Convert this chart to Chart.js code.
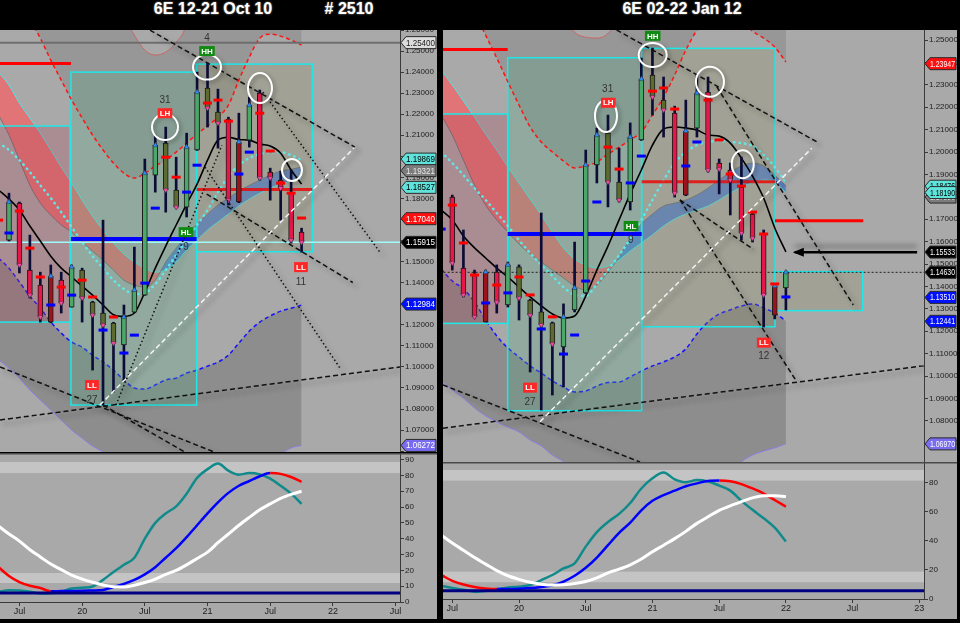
<!DOCTYPE html>
<html>
<head>
<meta charset="utf-8">
<title>6E monthly</title>
<script src="https://cdn.jsdelivr.net/npm/chart.js@4.4.1/dist/chart.umd.min.js"></script>
<style>
  html, body { margin: 0; padding: 0; background: #000; width: 960px; height: 623px; overflow: hidden; }
  .ttl { position: absolute; top: 0; height: 29px; line-height: 29px; color: #fff; text-align: center;
         font: bold 16px "Liberation Sans", Arial, sans-serif; text-shadow: 0 0 2px #aaa; }
  canvas { position: absolute; }
</style>
</head>
<body>
<div class="ttl" style="left:133px;width:160px">6E 12-21 Oct 10</div>
<div class="ttl" style="left:309px;width:80px"># 2510</div>
<div class="ttl" style="left:602px;width:160px">6E 02-22 Jan 12</div>
<canvas id="leftPrice" width="437" height="422" style="left:0;top:30px"></canvas>
<canvas id="leftOsc" width="437" height="166" style="left:0;top:453px"></canvas>
<canvas id="rightPrice" width="514" height="432" style="left:443px;top:30px"></canvas>
<canvas id="rightOsc" width="514" height="157" style="left:443px;top:462px"></canvas>
<script>
// ---------- left panel: 6E 12-21 Oct 10 (monthly bars, x = bar index) ----------
const leftOpen  = [1.1602, 1.1778, 1.1460, 1.1389, 1.1213, 1.1412, 1.1284, 1.1460, 1.1308, 1.1256, 1.1208, 1.1104, 1.1260, 1.1341, 1.1911, 1.2063, 1.1840, 1.1759, 1.2030, 1.2324, 1.2210, 1.2177, 1.1783, 1.2077, 1.2300, 1.1925, 1.1887, 1.1830, 1.1640];
const leftHigh  = [1.1825, 1.1783, 1.1626, 1.1450, 1.1484, 1.1450, 1.1484, 1.1469, 1.1312, 1.1697, 1.1212, 1.1294, 1.1569, 1.1987, 1.2101, 1.2139, 1.1996, 1.2110, 1.2400, 1.2443, 1.2319, 1.2186, 1.2205, 1.2281, 1.2315, 1.1944, 1.1930, 1.1935, 1.1659];
const leftLow   = [1.1598, 1.1446, 1.1327, 1.1213, 1.1210, 1.1256, 1.1284, 1.1213, 1.0985, 1.0819, 1.0881, 1.0928, 1.1258, 1.1340, 1.1830, 1.1735, 1.1754, 1.1712, 1.2028, 1.2139, 1.2039, 1.1769, 1.1780, 1.2044, 1.1887, 1.1792, 1.1697, 1.1588, 1.1545];
const leftClose = [1.1783, 1.1484, 1.1341, 1.1237, 1.1431, 1.1303, 1.1474, 1.1327, 1.1246, 1.1199, 1.1113, 1.1237, 1.1365, 1.1920, 1.2053, 1.1840, 1.1759, 1.2044, 1.2305, 1.2229, 1.2158, 1.1792, 1.2068, 1.2243, 1.1897, 1.1897, 1.1849, 1.1602, 1.1592];
const leftKind  = ['g','r','r','r','d','r','g','o','o','o','o','g','g','g','g','o','o','g','g','o','o','r','d','g','r','r','r','r','r'];
const leftRedDashAt  = [-1, 1, 2, 3, 5, 7, 8, 10, 15, 16, 19, 20, 21, 24, 25, 26, 27, 28];
const leftRedDash    = [1.1697, 1.1740, 1.1564, 1.1427, 1.1379, 1.1412, 1.1332, 1.1237, 1.1996, 1.1901, 1.2253, 1.2267, 1.2167, 1.2205, 1.2025, 1.1873, 1.1825, 1.1707];
const leftBlueDashAt = [0, 4, 6, 9, 11, 12, 13, 14, 17, 18, 22, 23];
const leftBlueDash   = [1.1636, 1.1294, 1.1341, 1.1175, 1.1066, 1.1151, 1.1398, 1.1754, 1.1830, 1.1958, 1.1916, 1.2020];
// indicator lines, first value sits at bar -1
const leftUpper      = [1.286, 1.279, 1.2718, 1.2647, 1.2561, 1.2457, 1.2362, 1.2267, 1.2182, 1.2101, 1.2030, 1.1968, 1.1920, 1.1897, 1.1920, 1.1954, 1.1982, 1.2020, 1.2063, 1.2106, 1.2144, 1.2186, 1.2243, 1.2362, 1.2471, 1.2561, 1.2580, 1.2571, 1.2552, 1.2528];
const leftOuterUpper = [1.30, 1.30, 1.30, 1.30, 1.30, 1.30, 1.30, 1.30, 1.30, 1.30, 1.30, 1.30, 1.268, 1.2576, 1.2504, 1.2481, 1.2495, 1.2542, 1.2640, 1.30, 1.30, 1.30, 1.30, 1.30, 1.30, 1.30, 1.30, 1.30, 1.30, 1.30];
const leftLower      = [1.1517, 1.1469, 1.1403, 1.1336, 1.1279, 1.1213, 1.1161, 1.1118, 1.1094, 1.1056, 1.1023, 1.0985, 1.0938, 1.0900, 1.0895, 1.0914, 1.0938, 1.0947, 1.0971, 1.0985, 1.1004, 1.1023, 1.1056, 1.1113, 1.1170, 1.1213, 1.1242, 1.1265, 1.1279, 1.1294];
const leftOuterLower = [1.1033, 1.0995, 1.0947, 1.0890, 1.0843, 1.0795, 1.0748, 1.0700, 1.0662, 1.0624, 1.0596, 1.0558, 1.0510, 1.0510, 1.0510, 1.0510, 1.0510, 1.0510, 1.0510, 1.0510, 1.0510, 1.0510, 1.0510, 1.0510, 1.0510, 1.0510, 1.0510, 1.0582, 1.0615, 1.0627];
const leftCloudA     = [1.2400, 1.2338, 1.2253, 1.2182, 1.2110, 1.2030, 1.1949, 1.1873, 1.1792, 1.1716, 1.1650, 1.1588, 1.1536, 1.1498, 1.1469, 1.1450, 1.1460, 1.1498, 1.1555, 1.1602, 1.1650, 1.1688, 1.1726, 1.1764, 1.1797, 1.1825, 1.1849, 1.1868, 1.1882, 1.1897];
const leftCloudB     = [1.2196, 1.2101, 1.1982, 1.1863, 1.1778, 1.1721, 1.1674, 1.1640, 1.1593, 1.1550, 1.1507, 1.1460, 1.1412, 1.1389, 1.1379, 1.1412, 1.1498, 1.1564, 1.1626, 1.1678, 1.1726, 1.1769, 1.1802, 1.1835, 1.1863, 1.1887, 1.1911, 1.1930, 1.1939, 1.1949];
const leftDotted     = [1.2063, 1.2030, 1.1982, 1.1925, 1.1863, 1.1802, 1.1735, 1.1664, 1.1593, 1.1526, 1.1469, 1.1412, 1.1370, 1.1346, 1.1351, 1.1393, 1.1460, 1.1531, 1.1602, 1.1674, 1.1745, 1.1830, 1.1906, 1.1958, 1.1992, 1.2011, 1.2020, 1.2020, 1.2006, 1.1982];
const leftMA         = [1.1840, 1.1797, 1.1745, 1.1669, 1.1598, 1.1526, 1.1469, 1.1427, 1.1384, 1.1341, 1.1294, 1.1248, 1.1240, 1.1256, 1.1355, 1.1469, 1.1574, 1.1674, 1.1773, 1.1868, 1.1982, 1.2077, 1.2091, 1.2080, 1.2077, 1.2058, 1.2049, 1.2015, 1.1935, 1.1868];
// annotations in (bar index, price)
const leftBoxes    = [[-1.5, 5.84, 1.1213, 1.2144], [5.93, 17.96, 1.0819, 1.2400], [17.96, 29.02, 1.1547, 1.2438]];
const leftBoxKind  = ['mauve', 'green', 'olive'];
const leftHLines   = [[-1.5, 5.93, 1.2441], [5.93, 17.96, 1.1608], [17.96, 29.02, 1.1843], [-1.5, 38, 1.1592], [-1.5, 38, 1.2540]];
const leftHLineKind = ['red', 'blue', 'redsoft', 'cyan', 'gray'];
const leftTrends   = [[13.5, 1.2599, 33.1, 1.2044], [8.7, 1.0819, 33.1, 1.2044], [-0.86, 1.0748, 37.42, 1.1000], [-0.86, 1.1000, 21.1, 1.0567], [9.0, 1.0819, 17.3, 1.0582], [18.92, 1.1821, 32.9, 1.1401], [10.24, 1.0819, 20.38, 1.2053], [24.3, 1.2305, 35.5, 1.1545], [18.76, 1.1949, 31.67, 1.0995]];
const leftTrendKind = ['dash', 'white', 'dash', 'dash', 'dash', 'dash', 'dot', 'dot', 'dot'];
const leftRings    = [[14.93, 1.2139], [18.95, 1.2424], [24.02, 1.2324], [27.08, 1.1935]];
const leftMarkText = ['HH', '4', 'LH', '31', 'HL', '9', 'LL', '27', 'LL', '11'];
const leftMarkX    = [18.95, 18.95, 14.93, 14.93, 16.94, 16.94, 7.94, 7.94, 27.94, 27.94];
const leftMarkY    = [1.2500, 1.2561, 1.2205, 1.2267, 1.1640, 1.1569, 1.0914, 1.0843, 1.1474, 1.1403];
const leftTagValue = [1.25400, 1.19869, 1.19321, 1.18527, 1.17040, 1.15915, 1.12984, 1.06272];
const leftTagKind  = ['light', 'cyan', 'gray', 'cyan', 'red', 'black', 'blue', 'lav'];
const leftOscWhite  = [48, 43, 38.5, 33, 28.5, 24, 20.5, 17, 14.5, 12.5, 10.8, 9.6, 9.5, 10.6, 12.3, 14.5, 17.5, 20, 23.5, 27.5, 31.5, 37.5, 43, 48.5, 53.5, 58.3, 62, 65.5, 68, 70];
const leftOscSignal = [22, 16.5, 12.6, 10.3, 8.8, 6.8, 6.9, 7.0, 7.1, 7.3, 7.6, 9.5, 11.5, 14, 17.5, 22, 28, 34, 41, 48.5, 56, 63, 69, 73.5, 76.5, 79.5, 81.5, 81, 79, 76];
const leftOscTeal   = [6.5, 7.4, 7.2, 6.5, 5.3, 5.5, 6.5, 8.5, 9.0, 9.8, 14, 19, 23.5, 28, 40, 50, 56, 60.5, 68.5, 78.5, 84, 87.5, 83, 80.5, 81.5, 80.7, 78, 73.5, 68.5, 62];
const leftOscBands  = [[12, 18.3], [81.5, 88.5]];
const leftXTickAt     = [1, 7, 13, 19, 25, 31, 37];
const leftXTickLabels = ['Jul', '20', 'Jul', '21', 'Jul', '22', 'Jul'];

// ---------- right panel: 6E 02-22 Jan 12 ----------
const rightOpen  = [1.1799, 1.1482, 1.1451, 1.1241, 1.1464, 1.1317, 1.1487, 1.1339, 1.1286, 1.1237, 1.1130, 1.1295, 1.1371, 1.1942, 1.2085, 1.1866, 1.1777, 1.2054, 1.2344, 1.2232, 1.2174, 1.1808, 1.2107, 1.2268, 1.1951, 1.1920, 1.1844, 1.1723, 1.1638, 1.1272, 1.1393];
const rightHigh  = [1.1808, 1.1652, 1.1473, 1.1473, 1.1496, 1.1509, 1.1496, 1.1343, 1.1728, 1.1241, 1.1322, 1.1598, 1.2009, 1.2107, 1.2165, 1.2018, 1.2130, 1.2420, 1.2464, 1.2335, 1.2205, 1.2232, 1.2344, 1.2335, 1.1969, 1.1951, 1.1978, 1.1732, 1.1652, 1.1406, 1.1469];
const rightLow   = [1.1473, 1.1353, 1.1259, 1.1241, 1.1281, 1.1308, 1.1250, 1.1018, 1.0848, 1.0915, 1.0951, 1.1286, 1.1368, 1.1862, 1.1755, 1.1777, 1.1741, 1.2052, 1.2165, 1.2067, 1.1799, 1.1805, 1.2067, 1.1911, 1.1813, 1.1719, 1.1607, 1.1598, 1.1219, 1.1255, 1.1295];
const rightClose = [1.1505, 1.1362, 1.1264, 1.1464, 1.1330, 1.1496, 1.1348, 1.1272, 1.1228, 1.1143, 1.1264, 1.1393, 1.1942, 1.2076, 1.1866, 1.1786, 1.2067, 1.2326, 1.2246, 1.2188, 1.1817, 1.2094, 1.2263, 1.1920, 1.1924, 1.1875, 1.1638, 1.1616, 1.1362, 1.1402, 1.1463];
const rightKind  = ['r','r','r','d','r','g','o','o','o','o','g','g','g','g','o','o','g','g','o','o','r','d','g','r','r','r','r','r','r','d','g'];
const rightRedDashAt  = [0, 1, 2, 4, 6, 7, 9, 14, 15, 18, 19, 20, 23, 24, 25, 26, 27, 28, 29];
const rightRedDash    = [1.1763, 1.1594, 1.1451, 1.1406, 1.1442, 1.1362, 1.1264, 1.2022, 1.1924, 1.2272, 1.2286, 1.2192, 1.2232, 1.2054, 1.1902, 1.1848, 1.1732, 1.1634, 1.1411];
const rightBlueDashAt = [-1, 3, 5, 8, 10, 11, 12, 13, 16, 17, 21, 22, 30];
const rightBlueDash   = [1.1656, 1.1326, 1.1371, 1.1210, 1.1098, 1.1183, 1.1424, 1.1777, 1.1862, 1.1982, 1.1938, 1.2045, 1.1353];
const rightUpper      = [1.295, 1.2835, 1.2723, 1.2625, 1.2522, 1.2420, 1.2313, 1.2210, 1.2112, 1.2045, 1.2000, 1.1960, 1.1929, 1.1938, 1.1955, 1.1991, 1.2022, 1.2054, 1.2089, 1.2165, 1.2246, 1.2344, 1.2455, 1.2545, 1.2612, 1.2643, 1.2634, 1.2589, 1.2540, 1.2509, 1.2469, 1.2402];
const rightOuterUpper = [1.30, 1.30, 1.30, 1.30, 1.30, 1.30, 1.30, 1.30, 1.30, 1.30, 1.30, 1.262, 1.2536, 1.2513, 1.2509, 1.2531, 1.262, 1.30, 1.30, 1.30, 1.30, 1.30, 1.30, 1.30, 1.30, 1.30, 1.30, 1.30, 1.30, 1.30, 1.30, 1.30];
const rightLower      = [1.1478, 1.1424, 1.1389, 1.1330, 1.1250, 1.1179, 1.1125, 1.1085, 1.1045, 1.1013, 1.0978, 1.0951, 1.0929, 1.0933, 1.0955, 1.0971, 1.0973, 1.0996, 1.1022, 1.1045, 1.1063, 1.1085, 1.1121, 1.1188, 1.1241, 1.1277, 1.1295, 1.1313, 1.1322, 1.1304, 1.1281, 1.1246];
const rightOuterLower = [1.0978, 1.0938, 1.0902, 1.0857, 1.0822, 1.0795, 1.0772, 1.0750, 1.0714, 1.0688, 1.0647, 1.0616, 1.0558, 1.0558, 1.0558, 1.0558, 1.0558, 1.0558, 1.0558, 1.0558, 1.0558, 1.0558, 1.0558, 1.0558, 1.0558, 1.0558, 1.0558, 1.0616, 1.0647, 1.0665, 1.0679, 1.0697];
const rightCloudA     = [1.2366, 1.2299, 1.2228, 1.2156, 1.2080, 1.2009, 1.1933, 1.1862, 1.1790, 1.1719, 1.1643, 1.1572, 1.1522, 1.1496, 1.1482, 1.1491, 1.1518, 1.1558, 1.1594, 1.1630, 1.1670, 1.1701, 1.1723, 1.1741, 1.1759, 1.1786, 1.1817, 1.1844, 1.1862, 1.1875, 1.1866, 1.1819];
const rightCloudB     = [1.2165, 1.2076, 1.1964, 1.1853, 1.1763, 1.1697, 1.1643, 1.1589, 1.1545, 1.1509, 1.1473, 1.1438, 1.1402, 1.1384, 1.1406, 1.1464, 1.1531, 1.1616, 1.1679, 1.1723, 1.1759, 1.1772, 1.1786, 1.1808, 1.1839, 1.1875, 1.1911, 1.1938, 1.1951, 1.1938, 1.1897, 1.1848];
const rightDotted     = [1.2000, 1.1951, 1.1897, 1.1839, 1.1786, 1.1728, 1.1670, 1.1607, 1.1549, 1.1496, 1.1447, 1.1397, 1.1362, 1.1357, 1.1411, 1.1473, 1.1540, 1.1612, 1.1697, 1.1786, 1.1875, 1.1951, 1.2000, 1.2031, 1.2045, 1.2049, 1.2045, 1.2040, 1.2027, 1.1987, 1.1933, 1.1862];
const rightMA         = [1.1741, 1.1697, 1.1625, 1.1572, 1.1527, 1.1482, 1.1442, 1.1397, 1.1353, 1.1313, 1.1277, 1.1259, 1.1268, 1.1357, 1.1473, 1.1580, 1.1697, 1.1813, 1.1920, 1.2031, 1.2103, 1.2112, 1.2107, 1.2098, 1.2076, 1.2071, 1.2040, 1.1973, 1.1893, 1.1795, 1.1661, 1.1554];
const rightBoxes    = [[-1.5, 5.04, 1.1235, 1.2170], [4.98, 17.03, 1.0845, 1.2421], [17.03, 29.02, 1.1220, 1.2463], [29.02, 36.9, 1.1292, 1.1466]];
const rightBoxKind  = ['mauve', 'green', 'olive', 'olive'];
const rightHLines   = [[-1.5, 4.98, 1.2458], [4.98, 17.03, 1.1634], [17.03, 29.02, 1.1867], [29.02, 36.96, 1.1693], [-1.5, 43, 1.1463]];
const rightHLineKind = ['red', 'blue', 'redsoft', 'red', 'blackdot'];
const rightTrends   = [[14.78, 1.2545, 32.91, 1.2042], [7.89, 1.0796, 32.32, 1.2017], [20.48, 1.1786, 30.97, 1.0975], [20.48, 1.1786, 27.07, 1.1566], [23.78, 1.2292, 36.06, 1.1317], [-0.84, 1.0767, 42.42, 1.1046], [-0.84, 1.0960, 16.88, 1.0616]];
const rightTrendKind = ['dash', 'white', 'dash', 'dash', 'dash', 'dash', 'dash'];
const rightArrow    = [30.8, 1.1553, 41.8, 1.1553];
const rightRings    = [[13.82, 1.2161], [18.02, 1.2433], [23.17, 1.2314], [26.12, 1.1946]];
const rightMarkText = ['HH', 'LH', '31', 'HL', '9', 'LL', '27', 'LL', '12'];
const rightMarkX    = [18.02, 14.03, 13.97, 16.07, 16.04, 6.99, 6.99, 28.01, 28.01];
const rightMarkY    = [1.2519, 1.2220, 1.2280, 1.1670, 1.1604, 1.0948, 1.0885, 1.1149, 1.1086];
const rightTagValue = [1.23947, 1.17990, 1.18476, 1.18190, 1.15533, 1.14630, 1.13510, 1.12441, 1.06970];
const rightTagKind  = ['red', 'gray', 'cyan', 'cyan', 'black', 'black', 'blue', 'blue', 'lav'];
const rightOscWhite  = [44, 38.5, 33.5, 28.5, 24, 19.5, 16, 13.5, 11.5, 10.2, 9.6, 9.8, 10.6, 12, 14.5, 18, 20.5, 23.5, 27.5, 32.5, 37, 41.5, 46.5, 52, 56.5, 61, 64, 67, 69.5, 71, 71, 70.5];
const rightOscSignal = [16.5, 12.5, 10, 8.3, 7.2, 6.8, 6.9, 7.1, 7.5, 8.3, 9.5, 12, 16, 21.5, 28.5, 37, 45.5, 52.5, 61, 67.5, 71.5, 74.5, 77.5, 79.5, 81.2, 81.5, 81, 79, 76, 72.5, 68, 63.5];
const rightOscTeal   = [9, 7.6, 6.3, 5.0, 5.5, 6.5, 8, 8.5, 9.6, 13, 16.5, 21, 24.5, 36, 46, 53, 58.5, 66, 76, 83, 87, 82.3, 80.3, 81.8, 80.8, 78, 74.5, 67.5, 61.3, 55.5, 49, 39.5];
const rightOscBands  = [[11.5, 18.8], [81.4, 88.7]];
const rightXTickAt     = [0, 6, 12, 18, 24, 30, 36, 42];
const rightXTickLabels = ['Jul', '20', 'Jul', '21', 'Jul', '22', 'Jul', '23'];
const oscBaseLine = 5.7;

// ---------- styles ----------
Chart.defaults.font.family = '"Liberation Sans", Arial, sans-serif';
const BG = '#a9a9a9';
const BODY = { g: '#4aa86a', o: '#5d6b30', r: '#e8174a', d: '#9a1420' };
const BOX_FILL = { mauve: 'rgba(170,60,80,0.25)', green: 'rgba(80,170,130,0.27)', olive: 'rgba(140,140,90,0.25)' };
const HLINE = { red: ['#ff0000', 3, []], redsoft: ['rgba(240,0,0,0.8)', 3, []], blue: ['#0000ff', 4, []],
                cyan: ['#9ffafa', 1.5, []], gray: ['#6e6e6e', 2, []], blackdot: ['#202020', 1, [2, 2]] };
const TREND = { dash: ['#111111', 1.5, [5, 3]], white: ['#f4f4f4', 1.5, [5, 3]], dot: ['#111111', 1.5, [1.5, 2.5]] };
const TAG = { light: ['#dcdcdc', '#222'], cyan: ['#5fe3da', '#000'], gray: ['#7c7c7c', '#e8e8e8'], red: ['#ff1010', '#fff'],
              black: ['#000', '#fff'], blue: ['#0010ff', '#fff'], lav: ['#7a6cf0', '#fff'] };
const LEFT_RING_SIZE = [[13, 13], [14, 12.5], [12, 15], [10, 11]];
const RIGHT_RING_SIZE = [[11, 16], [14, 12], [14, 15], [11, 14]];

function pts(from, arr) { return arr.map((v, k) => ({ x: from + k, y: v })); }

function line(data, color, width, extra) {
  return Object.assign({ type: 'line', data, borderColor: color, borderWidth: width, pointRadius: 0,
    cubicInterpolationMode: 'monotone', fill: false }, extra || {});
}

function drawTag(ctx, x, y, w, text, kind) {
  const h = 12;
  ctx.beginPath();
  ctx.moveTo(x, y); ctx.lineTo(x + 5, y - h / 2); ctx.lineTo(x + w, y - h / 2);
  ctx.lineTo(x + w, y + h / 2); ctx.lineTo(x + 5, y + h / 2); ctx.closePath();
  ctx.fillStyle = TAG[kind][0]; ctx.fill();
  ctx.strokeStyle = '#2a2a2a'; ctx.lineWidth = 1; ctx.stroke();
  ctx.fillStyle = TAG[kind][1];
  ctx.font = '9px "Liberation Sans", Arial';
  ctx.textAlign = 'left'; ctx.textBaseline = 'middle';
  ctx.fillText(text, x + 5, y + 0.5, w - 6);
}

function priceOverlay(P) {
  return {
    id: 'priceOverlay',
    beforeDraw(chart) {
      const c = chart.ctx;
      c.save(); c.fillStyle = BG; c.fillRect(0, 0, chart.width, chart.height); c.restore();
    },
    beforeDatasetDraw(chart, args) {
      const ds = chart.data.datasets[args.index];
      const c = chart.ctx, xs = chart.scales.x, ys = chart.scales.y, a = chart.chartArea;
      if (ds.boxesBelow) {
        c.save();
        c.beginPath(); c.rect(a.left, a.top, a.right - a.left, a.bottom - a.top); c.clip();
        P.boxes.forEach((b, k) => {
          const x0 = xs.getPixelForValue(b[0]), x1 = xs.getPixelForValue(b[1]);
          const y0 = ys.getPixelForValue(b[3]), y1 = ys.getPixelForValue(b[2]);
          c.fillStyle = BOX_FILL[P.boxKind[k]];
          c.fillRect(x0, y0, x1 - x0, y1 - y0);
          c.strokeStyle = '#1ee8e8'; c.lineWidth = 1.5;
          c.strokeRect(x0, y0, x1 - x0, y1 - y0);
        });
        c.restore();
      }
      if (ds.shadow) {
        c.save();
        c.shadowColor = 'rgba(30,30,30,0.45)'; c.shadowBlur = 5;
        c.shadowOffsetX = ds.shadow[0]; c.shadowOffsetY = ds.shadow[1];
      }
    },
    afterDatasetDraw(chart, args) {
      if (chart.data.datasets[args.index].shadow) chart.ctx.restore();
    },
    afterDatasetsDraw(chart) {
      const c = chart.ctx, xs = chart.scales.x, ys = chart.scales.y;
      // white rings
      c.save();
      c.strokeStyle = '#ffffff'; c.lineWidth = 2;
      c.shadowColor = 'rgba(0,0,0,0.35)'; c.shadowBlur = 4; c.shadowOffsetX = 2; c.shadowOffsetY = 2;
      P.rings.forEach((r, k) => {
        c.beginPath();
        c.ellipse(xs.getPixelForValue(r[0]), ys.getPixelForValue(r[1]), P.ringSize[k][0], P.ringSize[k][1], 0, 0, Math.PI * 2);
        c.stroke();
      });
      c.restore();
      // swing labels
      c.save();
      c.textAlign = 'center'; c.textBaseline = 'middle';
      P.markText.forEach((t, k) => {
        const px = xs.getPixelForValue(P.markX[k]), py = ys.getPixelForValue(P.markY[k]);
        if (/^[A-Z]+$/.test(t)) {
          c.font = 'bold 8px "Liberation Sans", Arial';
          const w = c.measureText(t).width + 4;
          c.fillStyle = (t === 'HH' || t === 'HL') ? '#118a11' : '#ff2626';
          c.fillRect(px - w / 2, py - 5, w, 10);
          c.fillStyle = '#ffffff';
          c.fillText(t, px, py + 0.5);
        } else {
          c.font = '10px "Liberation Sans", Arial';
          c.fillStyle = '#333333';
          c.fillText(t, px, py);
        }
      });
      c.restore();
      if (P.arrow) {
        const px = xs.getPixelForValue(P.arrow[0]), py = ys.getPixelForValue(P.arrow[1]);
        c.save();
        c.fillStyle = '#000';
        c.beginPath(); c.moveTo(px - 2, py); c.lineTo(px + 9, py - 4.5); c.lineTo(px + 9, py + 4.5); c.closePath(); c.fill();
        c.restore();
      }
    },
    afterDraw(chart) {
      const c = chart.ctx, ys = chart.scales.y, a = chart.chartArea;
      c.save();
      P.tagValue.forEach((v, k) => {
        drawTag(c, a.right + 1, ys.getPixelForValue(v), chart.width - a.right - 2, v.toFixed(5), P.tagKind[k]);
      });
      c.restore();
    }
  };
}

function buildPrice(id, P) {
  const ds = [];
  ds.push(line(pts(-1, P.outerUpper), 'rgba(205,95,95,0.9)', 1, { order: 100,
    fill: { target: 1, above: 'rgba(0,0,0,0.1)', below: 'rgba(0,0,0,0.1)' } }));
  ds.push(line(pts(-1, P.upper), '#ff1414', 1.5, { order: 80, borderDash: [4, 3] }));
  ds.push(line(pts(-1, P.lower), '#1414ff', 1.5, { order: 99, borderDash: [4, 3],
    fill: { target: 3, above: 'rgba(0,0,0,0.16)', below: 'rgba(0,0,0,0.16)' } }));
  ds.push(line(pts(-1, P.outerLower), '#8a7ee6', 1, { order: 98 }));
  ds.push(line(pts(-1, P.cloudA), '#52e4e4', 1, { order: 95,
    fill: { target: 5, above: 'rgba(245,95,100,0.72)', below: 'rgba(50,110,225,0.62)' } }));
  ds.push(line(pts(-1, P.cloudB), 'rgba(105,105,105,0.8)', 1, { order: 94 }));
  ds.push(line(pts(-1, P.dotted), '#5fe8e8', 2.5, { order: 90, borderDash: [0.5, 5], borderCapStyle: 'round', boxesBelow: true }));
  P.hlines.forEach((h, k) => {
    const s = HLINE[P.hlineKind[k]];
    ds.push(line([{ x: h[0], y: h[2] }, { x: h[1], y: h[2] }], s[0], s[1], { order: 70, borderDash: s[2] }));
  });
  ds.push(line(pts(-1, P.ma), '#000000', 1.6, { order: 60 }));
  ds.push({ type: 'bar', data: P.high.map((h, i) => ({ x: i, y: [P.low[i], h] })), backgroundColor: '#0c0c36',
    barThickness: 2, grouped: false, order: 50 });
  ds.push({ type: 'bar', data: P.open.map((o, i) => ({ x: i, y: [o, P.close[i]] })),
    backgroundColor: P.kind.map(k => BODY[k]), borderColor: '#1a1a1a', borderWidth: 1, borderSkipped: false,
    barThickness: 5, grouped: false, order: 49 });
  ds.push({ type: 'line', showLine: false, data: P.close.map((v, i) => ({ x: i, y: v })), pointStyle: 'triangle',
    pointRadius: 3, pointRotation: P.close.map((v, i) => v >= P.open[i] ? 0 : 180),
    pointBackgroundColor: P.close.map((v, i) => v >= P.open[i] ? '#2a8cff' : '#ff45a6'),
    pointBorderColor: '#333', pointBorderWidth: 0.5, order: 48 });
  ds.push({ type: 'line', showLine: false, data: P.redDashAt.map((x, k) => ({ x, y: P.redDash[k] })),
    pointStyle: 'line', pointRadius: 4.5, pointBorderWidth: 3, pointBorderColor: '#ff0000', order: 47 });
  ds.push({ type: 'line', showLine: false, data: P.blueDashAt.map((x, k) => ({ x, y: P.blueDash[k] })),
    pointStyle: 'line', pointRadius: 4.5, pointBorderWidth: 3, pointBorderColor: '#0000ff', order: 46 });
  P.trends.forEach((t, k) => {
    const s = TREND[P.trendKind[k]];
    ds.push(line([{ x: t[0], y: t[1] }, { x: t[2], y: t[3] }], s[0], s[1], { order: 40, borderDash: s[2], shadow: [4, 4] }));
  });
  if (P.arrow) {
    ds.push(line([{ x: P.arrow[0], y: P.arrow[1] }, { x: P.arrow[2], y: P.arrow[3] }], '#000', 2.5, { order: 39, shadow: [0, -6] }));
  }
  return new Chart(document.getElementById(id), {
    type: 'line',
    data: { datasets: ds },
    plugins: [priceOverlay(P)],
    options: {
      responsive: false, animation: false, devicePixelRatio: 1, events: [],
      layout: { padding: 0, autoPadding: false },
      plugins: { legend: { display: false }, tooltip: { enabled: false } },
      scales: {
        x: { type: 'linear', display: false, min: P.xMin, max: P.xMax, offset: false, grid: { offset: false } },
        y: { type: 'linear', position: 'right', min: P.yMin, max: P.yMax, beginAtZero: false,
          border: { display: true, color: '#3a3a3a', width: 1 },
          grid: { drawOnChartArea: false, tickLength: 4, color: '#3a3a3a' },
          ticks: { stepSize: 0.01, includeBounds: false, autoSkip: false, padding: 1, color: '#1c1c1c',
            font: { size: 8 }, callback: v => v.toFixed(5) },
          afterFit: s => { s.width = P.axisWidth; s.paddingTop = 0; s.paddingBottom = 0; } }
      }
    }
  });
}

function buildOsc(id, O) {
  const overlay = {
    id: 'oscOverlay',
    beforeDraw(chart) {
      const c = chart.ctx;
      c.save(); c.fillStyle = BG; c.fillRect(0, 0, chart.width, chart.height); c.restore();
    },
    beforeDatasetsDraw(chart) {
      const c = chart.ctx, ys = chart.scales.y, a = chart.chartArea;
      c.save();
      c.fillStyle = '#c4c4c4';
      O.bands.forEach(b => {
        const y0 = ys.getPixelForValue(b[1]), y1 = ys.getPixelForValue(b[0]);
        c.fillRect(a.left, y0, a.right - a.left, y1 - y0);
      });
      c.restore();
    },
    afterDraw(chart) {
      const c = chart.ctx;
      c.save(); c.fillStyle = '#4a4a4a'; c.fillRect(0, 0, chart.width, 1.5); c.restore();
    }
  };
  return new Chart(document.getElementById(id), {
    type: 'line',
    data: { datasets: [
      line([{ x: O.xMin, y: oscBaseLine }, { x: O.xMax, y: oscBaseLine }], '#000080', 3, {}),
      line(pts(-1, O.white), '#ffffff', 3, {}),
      line(pts(-1, O.signal), '#0000ff', 2.5, { segment: { borderColor: s => s.p1.parsed.y < s.p0.parsed.y ? '#ff0000' : '#0000ff' } }),
      line(pts(-1, O.teal), '#108a8a', 2.5, {})
    ] },
    plugins: [overlay],
    options: {
      responsive: false, animation: false, devicePixelRatio: 1, events: [],
      layout: { padding: 0, autoPadding: false },
      plugins: { legend: { display: false }, tooltip: { enabled: false } },
      scales: {
        x: { type: 'linear', min: O.xMin, max: O.xMax, offset: false,
          border: { display: true, color: '#3a3a3a', width: 1 },
          grid: { drawOnChartArea: false, tickLength: 4, color: '#3a3a3a', offset: false },
          ticks: { autoSkip: false, maxRotation: 0, padding: 0, color: '#1c1c1c', font: { size: 9 },
            callback: v => { const k = O.tickAt.indexOf(v); return k < 0 ? '' : O.tickLabels[k]; } },
          afterBuildTicks: s => { s.ticks = O.tickAt.map(v => ({ value: v })); },
          afterFit: s => { s.height = O.xAxisHeight; s.paddingLeft = 0; s.paddingRight = 0; } },
        y: { type: 'linear', position: 'right', min: 0, max: O.yMax,
          border: { display: true, color: '#3a3a3a', width: 1 },
          grid: { drawOnChartArea: false, tickLength: 4, color: '#3a3a3a' },
          ticks: { stepSize: O.yStep, includeBounds: false, padding: 1, color: '#1c1c1c', font: { size: 8 } },
          afterFit: s => { s.width = O.axisWidth; s.paddingTop = 0; s.paddingBottom = 0; } }
      }
    }
  });
}

buildPrice('leftPrice', {
  open: leftOpen, high: leftHigh, low: leftLow, close: leftClose, kind: leftKind,
  redDashAt: leftRedDashAt, redDash: leftRedDash, blueDashAt: leftBlueDashAt, blueDash: leftBlueDash,
  upper: leftUpper, outerUpper: leftOuterUpper, lower: leftLower, outerLower: leftOuterLower,
  cloudA: leftCloudA, cloudB: leftCloudB, dotted: leftDotted, ma: leftMA,
  boxes: leftBoxes, boxKind: leftBoxKind, hlines: leftHLines, hlineKind: leftHLineKind,
  trends: leftTrends, trendKind: leftTrendKind, arrow: null,
  rings: leftRings, ringSize: LEFT_RING_SIZE,
  markText: leftMarkText, markX: leftMarkX, markY: leftMarkY,
  tagValue: leftTagValue, tagKind: leftTagKind,
  xMin: -0.86, xMax: 37.42, yMin: 1.0596, yMax: 1.2600, axisWidth: 37
});
buildOsc('leftOsc', {
  white: leftOscWhite, signal: leftOscSignal, teal: leftOscTeal, bands: leftOscBands,
  tickAt: leftXTickAt, tickLabels: leftXTickLabels,
  xMin: -0.86, xMax: 37.42, yMax: 94.2, yStep: 10, axisWidth: 37, xAxisHeight: 17
});
buildPrice('rightPrice', {
  open: rightOpen, high: rightHigh, low: rightLow, close: rightClose, kind: rightKind,
  redDashAt: rightRedDashAt, redDash: rightRedDash, blueDashAt: rightBlueDashAt, blueDash: rightBlueDash,
  upper: rightUpper, outerUpper: rightOuterUpper, lower: rightLower, outerLower: rightOuterLower,
  cloudA: rightCloudA, cloudB: rightCloudB, dotted: rightDotted, ma: rightMA,
  boxes: rightBoxes, boxKind: rightBoxKind, hlines: rightHLines, hlineKind: rightHLineKind,
  trends: rightTrends, trendKind: rightTrendKind, arrow: rightArrow,
  rings: rightRings, ringSize: RIGHT_RING_SIZE,
  markText: rightMarkText, markX: rightMarkX, markY: rightMarkY,
  tagValue: rightTagValue, tagKind: rightTagKind,
  xMin: -0.836, xMax: 42.42, yMin: 1.0616, yMax: 1.2545, axisWidth: 33
});
buildOsc('rightOsc', {
  white: rightOscWhite, signal: rightOscSignal, teal: rightOscTeal, bands: rightOscBands,
  tickAt: rightXTickAt, tickLabels: rightXTickLabels,
  xMin: -0.836, xMax: 42.42, yMax: 94.2, yStep: 20, axisWidth: 33, xAxisHeight: 20
});
</script>
</body>
</html>
